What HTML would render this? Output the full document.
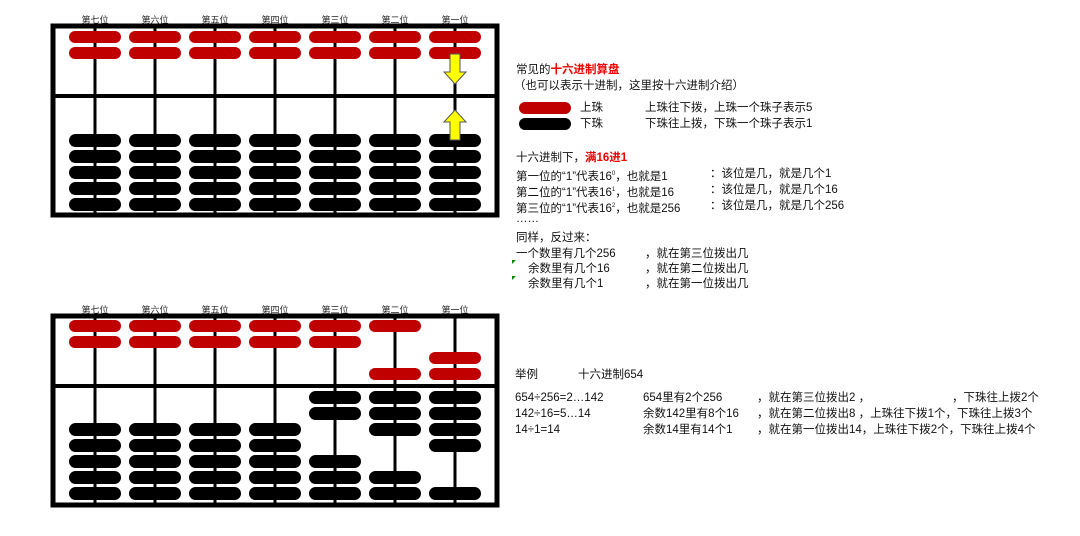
<!DOCTYPE html>
<html><head><meta charset="utf-8"><style>
body{margin:0;width:1080px;height:536px;background:#fff;overflow:hidden;position:relative;font-family:"Liberation Sans","Noto Sans CJK SC",sans-serif;font-size:11.5px;color:#111}
.t{position:absolute;white-space:nowrap;line-height:14px}
.r{color:#e00;font-weight:bold}
svg{position:absolute;left:0;top:0}
</style></head><body>
<svg width="1080" height="536">
<defs>
<rect id="rb" x="-26" y="0" width="52" height="12" rx="6" fill="#c00000"/>
<rect id="bb" x="-26" y="0" width="52" height="13" rx="6.5" fill="#000"/>
</defs>
<g font-family="Liberation Sans,Noto Sans CJK SC,sans-serif" font-size="9" text-anchor="middle" fill="#222">
<text x="95" y="23">第七位</text><text x="155" y="23">第六位</text><text x="215" y="23">第五位</text><text x="275" y="23">第四位</text><text x="335" y="23">第三位</text><text x="395" y="23">第二位</text><text x="455" y="23">第一位</text>
<text x="95" y="313">第七位</text><text x="155" y="313">第六位</text><text x="215" y="313">第五位</text><text x="275" y="313">第四位</text><text x="335" y="313">第三位</text><text x="395" y="313">第二位</text><text x="455" y="313">第一位</text>
</g>
<rect x="53" y="26" width="444" height="189" fill="none" stroke="#000" stroke-width="5"/>
<line x1="53" y1="96" x2="497" y2="96" stroke="#000" stroke-width="4"/>
<g stroke="#000" stroke-width="3">
<line x1="95" y1="26" x2="95" y2="215"/><line x1="155" y1="26" x2="155" y2="215"/><line x1="215" y1="26" x2="215" y2="215"/><line x1="275" y1="26" x2="275" y2="215"/><line x1="335" y1="26" x2="335" y2="215"/><line x1="395" y1="26" x2="395" y2="215"/><line x1="455" y1="26" x2="455" y2="215"/>
</g>
<g>
<use href="#rb" x="95" y="31"/><use href="#rb" x="155" y="31"/><use href="#rb" x="215" y="31"/><use href="#rb" x="275" y="31"/><use href="#rb" x="335" y="31"/><use href="#rb" x="395" y="31"/><use href="#rb" x="455" y="31"/>
<use href="#rb" x="95" y="47"/><use href="#rb" x="155" y="47"/><use href="#rb" x="215" y="47"/><use href="#rb" x="275" y="47"/><use href="#rb" x="335" y="47"/><use href="#rb" x="395" y="47"/><use href="#rb" x="455" y="47"/>
</g>
<g>
<use href="#bb" x="95" y="134"/><use href="#bb" x="155" y="134"/><use href="#bb" x="215" y="134"/><use href="#bb" x="275" y="134"/><use href="#bb" x="335" y="134"/><use href="#bb" x="395" y="134"/><use href="#bb" x="455" y="134"/>
<use href="#bb" x="95" y="150"/><use href="#bb" x="155" y="150"/><use href="#bb" x="215" y="150"/><use href="#bb" x="275" y="150"/><use href="#bb" x="335" y="150"/><use href="#bb" x="395" y="150"/><use href="#bb" x="455" y="150"/>
<use href="#bb" x="95" y="166"/><use href="#bb" x="155" y="166"/><use href="#bb" x="215" y="166"/><use href="#bb" x="275" y="166"/><use href="#bb" x="335" y="166"/><use href="#bb" x="395" y="166"/><use href="#bb" x="455" y="166"/>
<use href="#bb" x="95" y="182"/><use href="#bb" x="155" y="182"/><use href="#bb" x="215" y="182"/><use href="#bb" x="275" y="182"/><use href="#bb" x="335" y="182"/><use href="#bb" x="395" y="182"/><use href="#bb" x="455" y="182"/>
<use href="#bb" x="95" y="198"/><use href="#bb" x="155" y="198"/><use href="#bb" x="215" y="198"/><use href="#bb" x="275" y="198"/><use href="#bb" x="335" y="198"/><use href="#bb" x="395" y="198"/><use href="#bb" x="455" y="198"/>
</g>
<polygon points="450,54 460,54 460,72 466,72 455,84 444,72 450,72" fill="#ff0" stroke="#555" stroke-width="1"/>
<polygon points="455,110 466,122 460,122 460,140 450,140 450,122 444,122" fill="#ff0" stroke="#555" stroke-width="1"/>
<rect x="53" y="316" width="444" height="189" fill="none" stroke="#000" stroke-width="5"/>
<line x1="53" y1="386" x2="497" y2="386" stroke="#000" stroke-width="4"/>
<g stroke="#000" stroke-width="3">
<line x1="95" y1="316" x2="95" y2="505"/><line x1="155" y1="316" x2="155" y2="505"/><line x1="215" y1="316" x2="215" y2="505"/><line x1="275" y1="316" x2="275" y2="505"/><line x1="335" y1="316" x2="335" y2="505"/><line x1="395" y1="316" x2="395" y2="505"/><line x1="455" y1="316" x2="455" y2="505"/>
</g>
<g>
<use href="#rb" x="95" y="320"/><use href="#rb" x="155" y="320"/><use href="#rb" x="215" y="320"/><use href="#rb" x="275" y="320"/><use href="#rb" x="335" y="320"/><use href="#rb" x="395" y="320"/>
<use href="#rb" x="95" y="336"/><use href="#rb" x="155" y="336"/><use href="#rb" x="215" y="336"/><use href="#rb" x="275" y="336"/><use href="#rb" x="335" y="336"/>
<use href="#rb" x="455" y="352"/><use href="#rb" x="395" y="368"/><use href="#rb" x="455" y="368"/>
</g>
<g>
<use href="#bb" x="95" y="423"/><use href="#bb" x="95" y="439"/><use href="#bb" x="95" y="455"/><use href="#bb" x="95" y="471"/><use href="#bb" x="95" y="487"/>
<use href="#bb" x="155" y="423"/><use href="#bb" x="155" y="439"/><use href="#bb" x="155" y="455"/><use href="#bb" x="155" y="471"/><use href="#bb" x="155" y="487"/>
<use href="#bb" x="215" y="423"/><use href="#bb" x="215" y="439"/><use href="#bb" x="215" y="455"/><use href="#bb" x="215" y="471"/><use href="#bb" x="215" y="487"/>
<use href="#bb" x="275" y="423"/><use href="#bb" x="275" y="439"/><use href="#bb" x="275" y="455"/><use href="#bb" x="275" y="471"/><use href="#bb" x="275" y="487"/>
<use href="#bb" x="335" y="391"/><use href="#bb" x="335" y="407"/><use href="#bb" x="335" y="455"/><use href="#bb" x="335" y="471"/><use href="#bb" x="335" y="487"/>
<use href="#bb" x="395" y="391"/><use href="#bb" x="395" y="407"/><use href="#bb" x="395" y="423"/><use href="#bb" x="395" y="471"/><use href="#bb" x="395" y="487"/>
<use href="#bb" x="455" y="391"/><use href="#bb" x="455" y="407"/><use href="#bb" x="455" y="423"/><use href="#bb" x="455" y="439"/><use href="#bb" x="455" y="487"/>
</g>
<rect x="519" y="102" width="52" height="12" rx="6" fill="#c00000"/>
<rect x="519" y="118" width="52" height="12" rx="6" fill="#000"/>
<polygon points="512,260 516,260 512,264" fill="#080"/>
<polygon points="512,276 516,276 512,280" fill="#080"/>
</svg>

<div class="t" style="left:516px;top:63px">常见的<span class="r">十六进制算盘</span></div>
<div class="t" style="left:514px;top:79px">（也可以表示十进制，这里按十六进制介绍）</div>
<div class="t" style="left:580px;top:101px">上珠</div>
<div class="t" style="left:645px;top:101px">上珠往下拨，上珠一个珠子表示5</div>
<div class="t" style="left:580px;top:117px">下珠</div>
<div class="t" style="left:645px;top:117px">下珠往上拨，下珠一个珠子表示1</div>
<div class="t" style="left:516px;top:151px">十六进制下，<span class="r">满16进1</span></div>
<div class="t" style="left:516px;top:167px">第一位的“1”代表16<sup style="font-size:6px">0</sup>，也就是1</div>
<div class="t" style="left:710px;top:167px">：该位是几，就是几个1</div>
<div class="t" style="left:516px;top:183px">第二位的“1”代表16<sup style="font-size:6px">1</sup>，也就是16</div>
<div class="t" style="left:710px;top:183px">：该位是几，就是几个16</div>
<div class="t" style="left:516px;top:199px">第三位的“1”代表16<sup style="font-size:6px">2</sup>，也就是256</div>
<div class="t" style="left:710px;top:199px">：该位是几，就是几个256</div>
<div class="t" style="left:516px;top:212px">……</div>
<div class="t" style="left:516px;top:231px">同样，反过来：</div>
<div class="t" style="left:516px;top:247px">一个数里有几个256</div>
<div class="t" style="left:645px;top:247px">，就在第三位拨出几</div>
<div class="t" style="left:528px;top:262px">余数里有几个16</div>
<div class="t" style="left:645px;top:262px">，就在第二位拨出几</div>
<div class="t" style="left:528px;top:277px">余数里有几个1</div>
<div class="t" style="left:645px;top:277px">，就在第一位拨出几</div>

<div class="t" style="left:515px;top:368px">举例</div>
<div class="t" style="left:578px;top:368px">十六进制654</div>
<div class="t" style="left:515px;top:391px">654÷256=2…142</div>
<div class="t" style="left:643px;top:391px">654里有2个256</div>
<div class="t" style="left:757px;top:391px">，就在第三位拨出2 ，</div>
<div class="t" style="left:952px;top:391px">，下珠往上拨2个</div>
<div class="t" style="left:515px;top:407px">142÷16=5…14</div>
<div class="t" style="left:643px;top:407px">余数142里有8个16</div>
<div class="t" style="left:757px;top:407px">，就在第二位拨出8 ，上珠往下拨1个，下珠往上拨3个</div>
<div class="t" style="left:515px;top:423px">14÷1=14</div>
<div class="t" style="left:643px;top:423px">余数14里有14个1</div>
<div class="t" style="left:757px;top:423px">，就在第一位拨出14，上珠往下拨2个，下珠往上拨4个</div>
</body></html>
